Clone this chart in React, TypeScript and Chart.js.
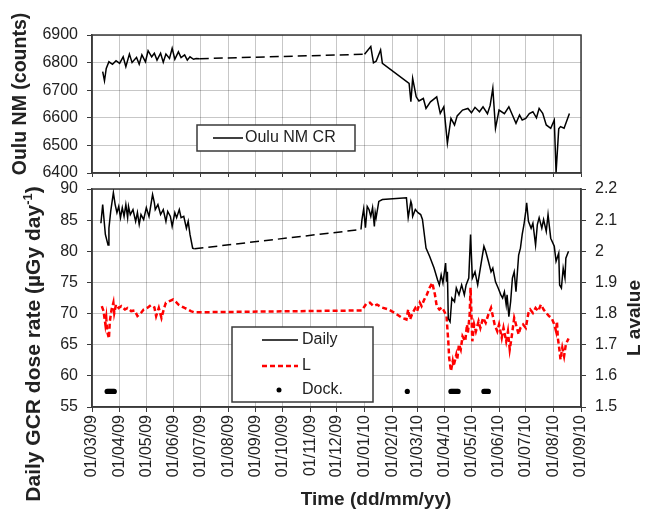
import { useEffect, useRef } from 'react';
import { Chart, registerables } from 'chart.js';
Chart.register(...registerables);

// Days counted from 01/03/09
const monthTickDays = [0, 31, 61, 92, 122, 153, 184, 214, 245, 275, 306, 337, 365, 396, 426, 457, 487, 518, 549];
const monthTickLabels = ['01/03/09', '01/04/09', '01/05/09', '01/06/09', '01/07/09', '01/08/09', '01/09/09', '01/10/09', '01/11/09', '01/12/09', '01/01/10', '01/02/10', '01/03/10', '01/04/10', '01/05/10', '01/06/10', '01/07/10', '01/08/10', '01/09/10'];

const ouluDays = [12, 14, 16, 19, 23, 27, 31, 35, 38, 42, 45, 50, 53, 56, 60, 63, 67, 70, 73, 77, 80, 83, 87, 90, 93, 97, 100, 104, 107, 110, 114, 117, 121,
  306, 313, 316, 319, 324, 326,
  356, 358, 360, 364, 367, 372, 375, 380, 387, 391, 395, 399, 403, 407, 410, 416, 422, 426, 430, 435, 439, 444, 447, 450, 453, 457, 463, 468, 472, 476, 480, 483, 487, 491, 495, 499, 502, 506, 510, 515, 519, 521, 524, 526, 530, 536];
const ouluCounts = [6767, 6734, 6779, 6803, 6794, 6807, 6797, 6821, 6785, 6831, 6800, 6819, 6794, 6828, 6803, 6843, 6821, 6834, 6809, 6834, 6801, 6831, 6815, 6852, 6812, 6839, 6818, 6828, 6809, 6821, 6812, 6815, 6814,
  6830, 6858, 6799, 6805, 6846, 6797,
  6725, 6658, 6743, 6676, 6661, 6670, 6634, 6658, 6676, 6616, 6640, 6508, 6598, 6574, 6607, 6628, 6634, 6618, 6638, 6622, 6640, 6615, 6645, 6707, 6562, 6628, 6615, 6640, 6610, 6580, 6610, 6592, 6598, 6615, 6622, 6600, 6634, 6616, 6574, 6562, 6592, 6402, 6560, 6568, 6562, 6616];

const doseDays = [10, 12, 15, 18, 19, 21, 24, 26, 28, 30, 32, 34, 36, 38, 40, 41, 43, 46, 49, 51, 53, 55, 58, 61, 64, 68, 70, 71, 74, 77, 80, 83, 85, 88, 90, 93, 95, 98, 100, 103, 106, 108, 110, 113, 115,
  302, 303, 305, 307, 309, 311, 313, 315, 317, 318, 319, 322, 326, 353, 355, 358, 359, 360, 363, 366, 369, 371, 375, 379, 384, 388, 390, 392, 394, 397,
  398, 399, 400, 402, 404, 407, 409, 412, 415, 418, 420, 423, 425, 427, 430, 433, 436, 440, 442, 445, 448, 450, 453, 456, 459, 461, 463, 465, 466, 468,
  470, 472, 474, 476, 479, 481, 483, 485, 487, 488, 490, 493, 495, 498, 500, 502, 505, 507, 510, 512, 515, 519, 521, 524, 525, 527, 529, 531, 532, 535];
const doseRates = [84.5, 87.5, 82.7, 81.0, 83.7, 86.4, 89.4, 87.5, 86.2, 87.2, 85.4, 87.0, 85.6, 87.5, 85.4, 87.2, 85.9, 86.7, 84.8, 86.2, 84.3, 85.9, 85.1, 87.0, 85.6, 89.1, 87.8, 86.7, 87.5, 85.9, 86.7, 84.8, 86.4, 85.6, 84.0, 86.2, 85.4, 86.7, 85.4, 85.6, 83.7, 84.8, 82.7, 80.5, 80.4,
  83.5, 85.0, 86.8, 83.8, 87.2, 86.7, 85.6, 87.0, 84.0, 86.2, 85.4, 88.0, 88.3, 88.6, 85.4, 88.0, 87.5, 85.6, 86.7, 86.2, 85.9, 85.1, 80.5, 79.2, 77.3, 75.4, 74.6, 76.2, 74.9, 78.1,
  75.1, 76.7, 69.2, 68.7, 72.5, 71.9, 74.1, 73.0, 74.6, 73.0, 74.6, 75.7, 82.7, 75.7, 76.7, 74.6, 77.3, 80.8, 80.0, 78.4, 76.7, 77.3, 75.1, 74.1, 73.0, 72.5, 73.5, 71.4, 73.0, 69.5,
  71.9, 75.7, 76.7, 73.5, 79.4, 80.5, 82.7, 84.3, 86.4, 87.8, 84.8, 83.7, 84.5, 81.0, 84.3, 85.4, 83.7, 85.1, 83.2, 85.9, 82.1, 80.8, 78.4, 79.7, 74.6, 74.1, 77.3, 75.7, 78.9, 80.0];

const lDays = [11, 13, 15, 16, 17, 19, 20, 22, 24, 25, 27, 30, 33, 37, 40, 44, 48, 51, 55, 58, 62, 66, 70, 72, 75, 78, 81, 83, 87, 91, 94, 97, 100, 104, 108, 111, 115,
  303, 308, 312, 316, 320, 325, 333, 340, 348,
  353, 355, 357, 360, 363, 365, 368, 370, 373, 376, 379, 382, 385, 387, 390, 393, 395, 398, 400, 401,
  403, 405, 406, 409, 410, 412, 414, 416, 419, 421, 422, 424, 425, 427, 429, 431, 434, 436, 439, 442,
  445, 448, 450, 452, 455, 457, 460, 462, 465, 467, 469, 471, 474, 476, 479, 481, 484, 487, 490, 492,
  495, 498, 501, 504, 507, 510, 513, 516, 519, 521, 522, 523, 525, 526, 528, 530, 532, 535];
const lValues = [1.824, 1.808, 1.765, 1.786, 1.743, 1.720, 1.775, 1.813, 1.835, 1.802, 1.829, 1.818, 1.824, 1.813, 1.818, 1.808, 1.810, 1.792, 1.802, 1.813, 1.818, 1.827, 1.820, 1.792, 1.818, 1.786, 1.818, 1.835, 1.840, 1.845, 1.838, 1.829, 1.824, 1.818, 1.813, 1.808, 1.804,
  1.810, 1.832, 1.835, 1.824, 1.829, 1.820, 1.813, 1.802, 1.786,
  1.781, 1.813, 1.781, 1.802, 1.818, 1.808, 1.835, 1.824, 1.845, 1.861, 1.883, 1.899, 1.861, 1.824, 1.813, 1.820, 1.810, 1.792, 1.711, 1.658,
  1.615, 1.647, 1.631, 1.668, 1.652, 1.701, 1.685, 1.727, 1.711, 1.765, 1.738, 1.797, 1.883, 1.711, 1.765, 1.743, 1.775, 1.754, 1.786, 1.770,
  1.797, 1.818, 1.792, 1.765, 1.743, 1.765, 1.722, 1.754, 1.711, 1.743, 1.685, 1.722, 1.786, 1.765, 1.733, 1.754, 1.765, 1.754, 1.802, 1.813,
  1.802, 1.818, 1.808, 1.829, 1.813, 1.802, 1.792, 1.786, 1.765, 1.743, 1.775, 1.722, 1.679, 1.652, 1.690, 1.663, 1.701, 1.720];

const dockDays = [17, 18, 19, 20, 21, 22, 23, 24, 25, 354, 403, 404, 405, 406, 407, 408, 409, 410, 411, 440, 441, 442, 443, 444, 445];
const dockLevel = 57.5;

const countRange = [6400, 6900];
const doseRange = [55, 90];
const lRange = [1.5, 2.2];

const FONT = "'Liberation Sans', Arial, sans-serif";
const GRID = 'rgba(0,0,0,0.22)';
const AXIS = '#3a3a3a';
const TXT = '#222';

const gapDash = (c: any) => (c.p1.parsed.x - c.p0.parsed.x > 60 ? [9, 5] : undefined);

const frame = {
  id: 'frame',
  beforeDatasetsDraw(chart: any) {
    const { ctx, chartArea: a } = chart;
    ctx.save();
    ctx.strokeStyle = AXIS;
    ctx.lineWidth = 1.5;
    ctx.strokeRect(a.left, a.top, a.right - a.left, a.bottom - a.top);
    ctx.restore();
  },
};

function vText(ctx: CanvasRenderingContext2D, text: string, x: number, y: number, size = 19) {
  ctx.save();
  ctx.translate(x, y);
  ctx.rotate(-Math.PI / 2);
  ctx.font = `bold ${size}px ${FONT}`;
  ctx.fillStyle = TXT;
  ctx.textAlign = 'center';
  ctx.textBaseline = 'middle';
  ctx.fillText(text, 0, 0);
  ctx.restore();
}

const topDecor = {
  id: 'topDecor',
  afterDraw(chart: any) {
    const ctx: CanvasRenderingContext2D = chart.ctx;
    vText(ctx, 'Oulu NM (counts)', 21, 94, 19.5);
    ctx.save();
    ctx.fillStyle = '#fff';
    ctx.fillRect(197, 125, 158, 26);
    ctx.strokeStyle = AXIS;
    ctx.lineWidth = 1.5;
    ctx.strokeRect(197, 125, 158, 26);
    ctx.strokeStyle = '#000';
    ctx.lineWidth = 1.5;
    ctx.beginPath();
    ctx.moveTo(213, 138);
    ctx.lineTo(243, 138);
    ctx.stroke();
    ctx.font = `16px ${FONT}`;
    ctx.fillStyle = TXT;
    ctx.textBaseline = 'middle';
    ctx.textAlign = 'left';
    ctx.fillText('Oulu NM CR', 245, 138);
    ctx.restore();
  },
};

const bottomDecor = {
  id: 'bottomDecor',
  afterDraw(chart: any) {
    const ctx: CanvasRenderingContext2D = chart.ctx;
    // left title with superscript
    ctx.save();
    ctx.translate(34, 344);
    ctx.rotate(-Math.PI / 2);
    ctx.fillStyle = TXT;
    ctx.textBaseline = 'middle';
    ctx.textAlign = 'left';
    const main = 'Daily GCR dose rate (µGy day';
    const sup = '-1';
    const end = ')';
    ctx.font = `bold 21px ${FONT}`;
    const w1 = ctx.measureText(main).width;
    const w3 = ctx.measureText(end).width;
    ctx.font = `bold 13px ${FONT}`;
    const w2 = ctx.measureText(sup).width;
    const start = -(w1 + w2 + w3) / 2;
    ctx.font = `bold 21px ${FONT}`;
    ctx.fillText(main, start, 0);
    ctx.font = `bold 13px ${FONT}`;
    ctx.fillText(sup, start + w1, -6);
    ctx.font = `bold 21px ${FONT}`;
    ctx.fillText(end, start + w1 + w2, 0);
    ctx.restore();

    vText(ctx, 'L avalue', 635, 318);

    ctx.save();
    ctx.font = `bold 19px ${FONT}`;
    ctx.fillStyle = TXT;
    ctx.textAlign = 'center';
    ctx.textBaseline = 'alphabetic';
    ctx.fillText('Time (dd/mm/yy)', 376, 505);
    ctx.restore();

    // legend
    ctx.save();
    ctx.fillStyle = '#fff';
    ctx.fillRect(232, 327, 141, 75);
    ctx.strokeStyle = AXIS;
    ctx.lineWidth = 1.5;
    ctx.strokeRect(232, 327, 141, 75);
    ctx.strokeStyle = '#000';
    ctx.lineWidth = 1.5;
    ctx.beginPath();
    ctx.moveTo(262, 340);
    ctx.lineTo(298, 340);
    ctx.stroke();
    ctx.strokeStyle = '#ff0000';
    ctx.lineWidth = 2.5;
    ctx.setLineDash([5, 3]);
    ctx.beginPath();
    ctx.moveTo(262, 366);
    ctx.lineTo(298, 366);
    ctx.stroke();
    ctx.setLineDash([]);
    ctx.fillStyle = '#000';
    ctx.beginPath();
    ctx.arc(279, 390, 2.5, 0, Math.PI * 2);
    ctx.fill();
    ctx.font = `16px ${FONT}`;
    ctx.fillStyle = TXT;
    ctx.textBaseline = 'middle';
    ctx.textAlign = 'left';
    ctx.fillText('Daily', 302, 340);
    ctx.fillText('L', 302, 366);
    ctx.fillText('Dock.', 302, 390);
    ctx.restore();
  },
};

const monthTicks = (s: any) => {
  s.ticks = monthTickDays.map((v) => ({ value: v }));
};
const monthLabel = (v: any) => {
  const i = monthTickDays.indexOf(Number(v));
  return i >= 0 ? monthTickLabels[i] : '';
};

export default function App() {
  const topRef = useRef<HTMLCanvasElement>(null);
  const botRef = useRef<HTMLCanvasElement>(null);

  useEffect(() => {
    Chart.defaults.font.family = FONT;
    const top = new Chart(topRef.current!, {
      type: 'line',
      data: {
        datasets: [
          {
            label: 'Oulu NM CR',
            data: ouluDays.map((d, i) => ({ x: d, y: ouluCounts[i] })),
            borderColor: '#000',
            borderWidth: 1.5,
            pointRadius: 0,
            segment: { borderDash: gapDash },
          } as any,
        ],
      },
      options: {
        responsive: false,
        animation: false,
        layout: { padding: { left: 0, right: 64, top: 35, bottom: 333 } },
        plugins: { legend: { display: false }, tooltip: { enabled: false } },
        scales: {
          x: {
            type: 'linear',
            min: 0,
            max: 549,
            afterBuildTicks: monthTicks,
            ticks: { display: false },
            grid: { color: GRID, lineWidth: 1, tickLength: 4, tickColor: AXIS },
            border: { color: AXIS, width: 1.5 },
            afterFit: (s: any) => { s.height = 7; },
          },
          y: {
            min: countRange[0],
            max: countRange[1],
            ticks: { stepSize: 100, callback: (v: any) => String(v), font: { size: 16 }, color: TXT, padding: 9 },
            grid: { color: GRID, lineWidth: 1, tickLength: 5, tickColor: AXIS },
            border: { color: AXIS, width: 1.5 },
            afterFit: (s: any) => { s.width = 92; },
          },
        },
      } as any,
      plugins: [frame, topDecor],
    });

    const bot = new Chart(botRef.current!, {
      type: 'line',
      data: {
        datasets: [
          {
            label: 'Daily',
            data: doseDays.map((d, i) => ({ x: d, y: doseRates[i] })),
            borderColor: '#000',
            borderWidth: 1.5,
            pointRadius: 0,
            yAxisID: 'y',
            segment: { borderDash: gapDash },
          } as any,
          {
            label: 'L',
            data: lDays.map((d, i) => ({ x: d, y: lValues[i] })),
            borderColor: '#ff0000',
            borderWidth: 2.5,
            borderDash: [5, 3],
            pointRadius: 0,
            yAxisID: 'y2',
          },
          {
            label: 'Dock.',
            data: dockDays.map((d) => ({ x: d, y: dockLevel })),
            showLine: false,
            pointRadius: 2.6,
            pointBackgroundColor: '#000',
            pointBorderWidth: 0,
            yAxisID: 'y',
          },
        ],
      },
      options: {
        responsive: false,
        animation: false,
        layout: { padding: { left: 0, right: 0, top: 189, bottom: 0 } },
        plugins: { legend: { display: false }, tooltip: { enabled: false } },
        scales: {
          x: {
            type: 'linear',
            min: 0,
            max: 549,
            afterBuildTicks: monthTicks,
            ticks: { autoSkip: false, minRotation: 90, maxRotation: 90, font: { size: 16 }, color: TXT, padding: 3, callback: monthLabel },
            grid: { color: GRID, lineWidth: 1, tickLength: 5, tickColor: AXIS },
            border: { color: AXIS, width: 1.5 },
            afterFit: (s: any) => { s.height = 106; },
          },
          y: {
            position: 'left',
            min: doseRange[0],
            max: doseRange[1],
            ticks: { stepSize: 5, callback: (v: any) => String(v), font: { size: 16 }, color: TXT, padding: 9 },
            grid: { color: GRID, lineWidth: 1, tickLength: 5, tickColor: AXIS },
            border: { color: AXIS, width: 1.5 },
            afterFit: (s: any) => { s.width = 92; },
          },
          y2: {
            position: 'right',
            min: lRange[0],
            max: lRange[1],
            ticks: { stepSize: 0.1, callback: (v: any) => String(Math.round(v * 10) / 10), font: { size: 16 }, color: TXT, padding: 9 },
            grid: { drawOnChartArea: false, tickLength: 5, tickColor: AXIS },
            border: { color: AXIS, width: 1.5 },
            afterFit: (s: any) => { s.width = 64; },
          },
        },
      } as any,
      plugins: [frame, bottomDecor],
    });

    return () => {
      top.destroy();
      bot.destroy();
    };
  }, []);

  const cs: any = { position: 'absolute', left: 0, top: 0, width: 645, height: 513 };
  return (
    <div style={{ position: 'absolute', left: 0, top: 0, width: 645, height: 513, background: '#fff' }}>
      <canvas ref={topRef} width={645} height={513} style={cs} />
      <canvas ref={botRef} width={645} height={513} style={cs} />
    </div>
  );
}
